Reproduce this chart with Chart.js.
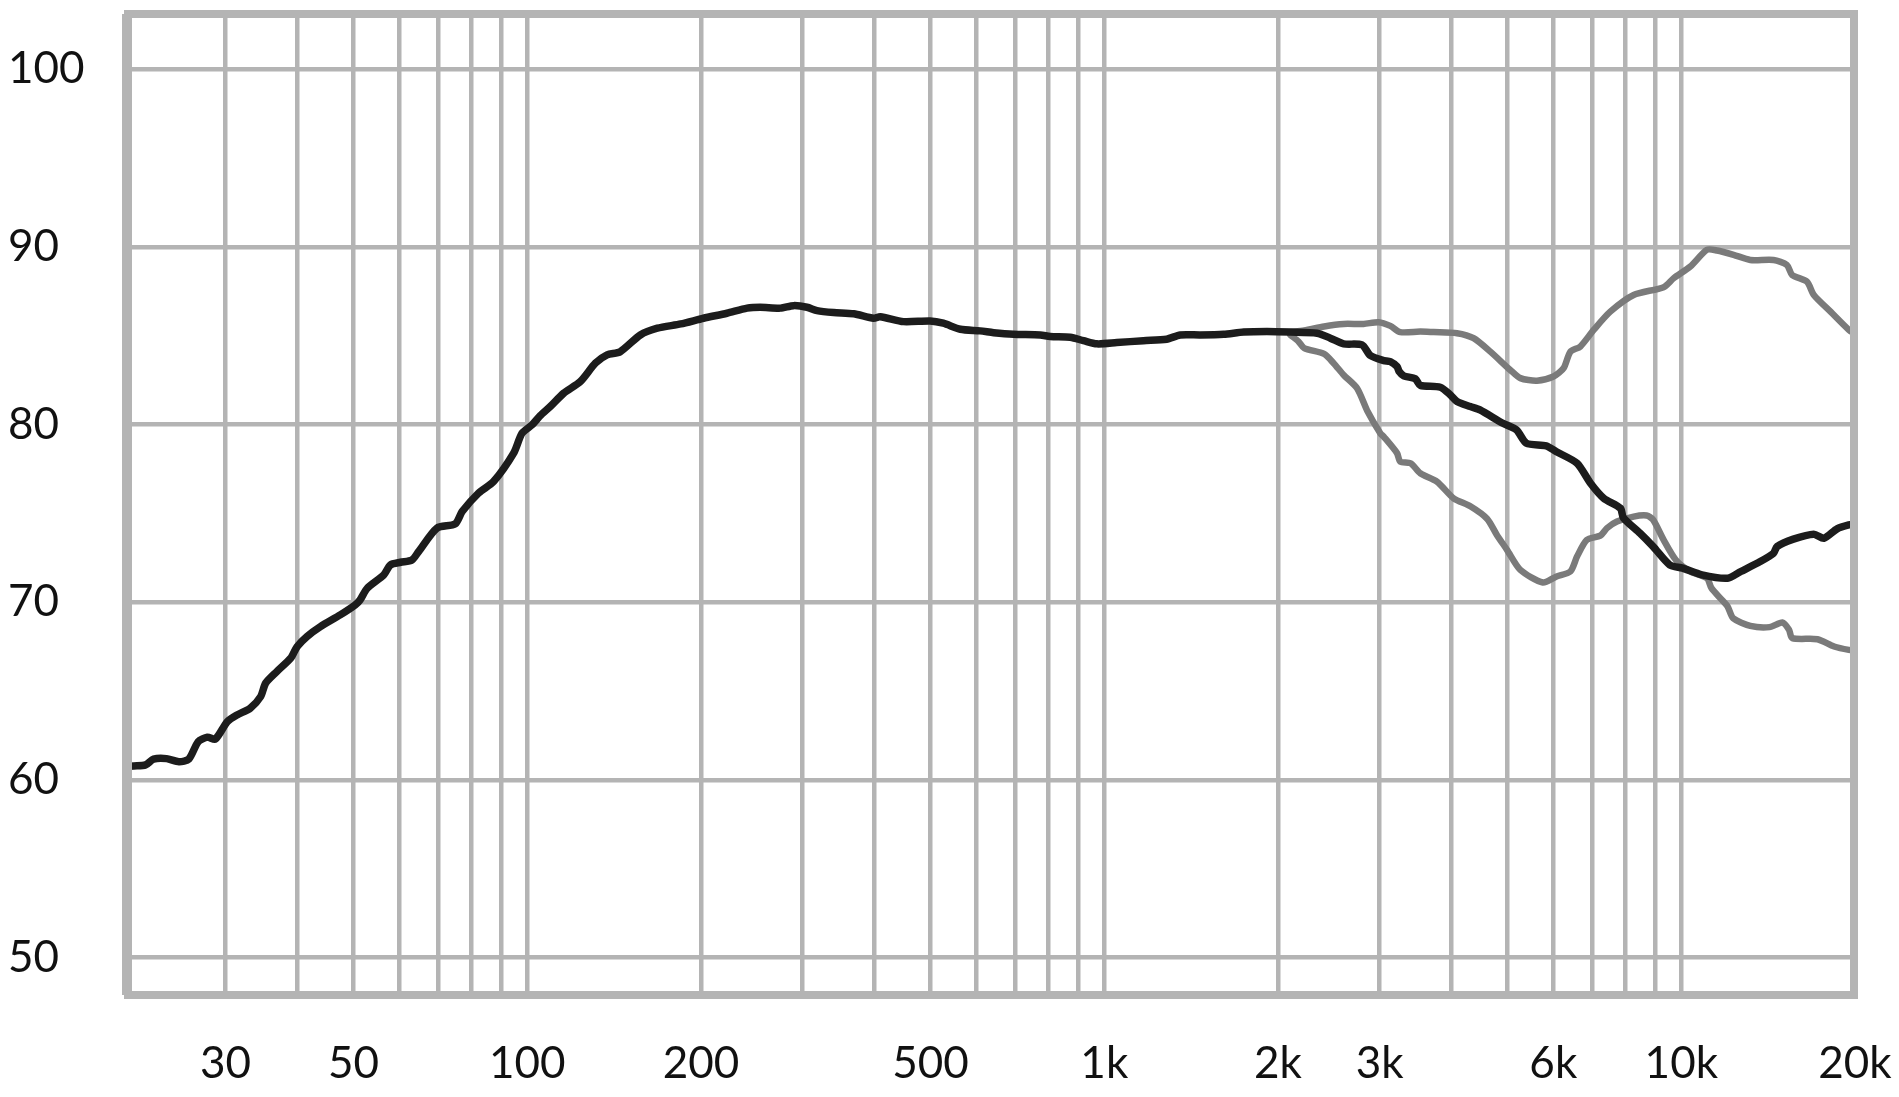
<!DOCTYPE html>
<html>
<head>
<meta charset="utf-8">
<title>Frequency response</title>
<script src="https://cdn.jsdelivr.net/npm/chart.js@4.4.1/dist/chart.umd.min.js"></script>
<style>
  html,body{margin:0;padding:0;background:#fff;}
  #wrap{width:1899px;height:1097px;position:relative;}
</style>
</head>
<body>
<div id="wrap"><canvas id="chFr"></canvas></div>
<script>
// ====== data (Hz / dB) ======
const mainHz = [20, 20.8, 21.8, 22.5, 23.7, 24.9, 25.9, 26.9, 27.9, 28.8, 30.2, 31.4, 33.1, 34.5, 35.2, 36.8, 38.9, 39.9, 41.5, 43.8,
  47.4, 50.3, 51.3, 52.8, 56.4, 57.9, 60.3, 63.1, 64.8, 69.7, 75.0, 77.1, 82.3, 87.4, 94.7, 97.9, 101.9, 105.3, 109.6, 115.6,
  123.6, 131.2, 137.5, 144.9, 157, 168, 184.5, 202, 221.8, 240.4, 253.3, 274.5, 289.4, 305.3, 317.8, 339.5, 367.8, 398.3, 409, 448.7,
  499, 526, 563, 609.5, 643, 696, 774.5, 806, 873, 920, 971, 1051, 1169, 1282, 1354, 1467, 1610, 1744, 1914, 2101,
  2338, 2465, 2599, 2797, 2891, 3049, 3131, 3216, 3244, 3303, 3460, 3529, 3822, 3978, 4085, 4309, 4478, 4906, 5180, 5390,
  5832, 6066, 6596, 6960, 7340, 7842, 7937, 8483, 8939, 9550, 10050, 10860, 12030, 12680, 13700, 14450, 14650, 15640, 16970, 17660,
  18620, 19510, 20000];
const mainDb = [60.75, 60.79, 60.85, 61.17, 61.2, 61.03, 61.17, 62.16, 62.41, 62.3, 63.28, 63.66, 64.04, 64.69, 65.45, 66.1, 66.85, 67.5, 68.07, 68.63,
  69.29, 69.85, 70.13, 70.79, 71.54, 72.1, 72.25, 72.38, 72.85, 74.17, 74.41, 75.1, 76.14, 76.79, 78.39, 79.51, 79.98, 80.5, 81.01, 81.76,
  82.42, 83.45, 83.92, 84.1, 85.04, 85.42, 85.66, 85.98, 86.26, 86.55, 86.6, 86.55, 86.69, 86.6, 86.41, 86.3, 86.23, 85.98, 86.07, 85.79,
  85.83, 85.7, 85.36, 85.27, 85.17, 85.08, 85.04, 84.95, 84.91, 84.72, 84.54, 84.61, 84.72, 84.8, 85.04, 85.04, 85.08, 85.2, 85.23, 85.2,
  85.14, 84.86, 84.54, 84.48, 83.88, 83.6, 83.54, 83.26, 82.98, 82.74, 82.57, 82.2, 82.1, 81.67, 81.3, 81.01, 80.82, 80.07, 79.7, 78.95,
  78.8, 78.48, 77.82, 76.7, 75.85, 75.29, 74.75, 73.88, 73.13, 72.1, 71.92, 71.54, 71.35, 71.73, 72.29, 72.76, 73.13, 73.55, 73.83, 73.6,
  74.13, 74.35, 74.4];

const upperHz = [2101, 2220, 2404, 2599, 2814, 2988, 3131, 3258, 3529, 3722, 4085, 4365, 4667, 5053, 5260, 5623, 6005, 6252, 6423, 6683,
  7048, 7532, 8268, 9318, 9698, 10366, 11080, 11530, 12320, 13170, 14450, 15240, 15560, 16510, 16970, 18140, 19510, 20000];
const upperDb = [85.2, 85.29, 85.52, 85.66, 85.66, 85.76, 85.55, 85.2, 85.23, 85.2, 85.14, 84.86, 84.1, 83.07, 82.61, 82.47, 82.7, 83.17, 84.1, 84.39,
  85.32, 86.35, 87.29, 87.73, 88.23, 88.89, 89.83, 89.79, 89.55, 89.26, 89.26, 88.98, 88.42, 88.04, 87.29, 86.35, 85.33, 85.1];

const lowerHz = [2101, 2171, 2220, 2404, 2497, 2599, 2742, 2860, 3008, 3049, 3216, 3258, 3395, 3529, 3771, 4031, 4309, 4606, 4790, 4988,
  5260, 5756, 6066, 6423, 6596, 6859, 7239, 7433, 7737, 8268, 8710, 8939, 9318, 9779, 10366, 11080, 11280, 11760, 12030, 12300,
  13170, 14220, 14970, 15370, 15570, 17220, 18400, 19510, 20000];
const lowerDb = [85.04, 84.67, 84.3, 83.97, 83.45, 82.79, 82.04, 80.73, 79.51, 79.32, 78.39, 77.91, 77.82, 77.26, 76.79, 75.85, 75.4, 74.7, 73.79, 72.95,
  71.82, 71.11, 71.44, 71.73, 72.57, 73.51, 73.75, 74.17, 74.54, 74.82, 74.88, 74.63, 73.51, 72.39, 71.73, 71.35, 70.79, 70.13, 69.76, 69.1,
  68.67, 68.6, 68.86, 68.45, 67.98, 67.92, 67.51, 67.32, 67.3];

// ====== axes ======
const gridHz = [20, 30, 40, 50, 60, 70, 80, 90, 100, 200, 300, 400, 500, 600, 700, 800, 900,
  1000, 2000, 3000, 4000, 5000, 6000, 7000, 8000, 9000, 10000, 20000];
const labelHz   = [30, 50, 100, 200, 500, 1000, 2000, 3000, 6000, 10000, 20000];
const labelText = ['30', '50', '100', '200', '500', '1k', '2k', '3k', '6k', '10k', '20k'];
const gridDb = [50, 60, 70, 80, 90, 100];

(function(){
  const GRID = '#b4b4b4';
  const zip = (xs, ys) => xs.map((x, i) => ({ x, y: ys[i] }));
  const lblOf = v => { const i = labelHz.indexOf(v); return i >= 0 ? labelText[i] : ''; };
  const font = { family: 'Lato, "Liberation Sans", sans-serif', size: 44 };

  // frame drawn on top of the curves, like the original
  const framePlugin = {
    id: 'frame',
    afterDatasetsDraw(chart){
      const { ctx, chartArea: a } = chart;
      ctx.save();
      ctx.strokeStyle = GRID; ctx.lineWidth = 8;
      ctx.strokeRect(a.left + 4, a.top, a.right - a.left - 5, a.bottom - a.top);
      ctx.restore();
    }
  };

  const line = (data, color, w) => ({
    data, borderColor: color, borderWidth: w, pointRadius: 0, tension: 0.25,
    borderJoinStyle: 'round', borderCapStyle: 'round', fill: false
  });

  new Chart(document.getElementById('chFr'), {
    type: 'line',
    data: {
      datasets: [
        line(zip(mainHz, mainDb), '#1c1c1c', 7.5),
        line(zip(upperHz, upperDb), '#7a7a7a', 6.5),
        line(zip(lowerHz, lowerDb), '#7a7a7a', 6.5)
      ]
    },
    options: {
      responsive: true, maintainAspectRatio: false, devicePixelRatio: 1,
      animation: false,
      layout: { padding: { left: 8, top: 14, right: 44, bottom: 0 } },
      plugins: { legend: { display: false }, tooltip: { enabled: false } },
      scales: {
        x: {
          type: 'logarithmic', min: 20, max: 20000,
          afterBuildTicks: s => { s.ticks = gridHz.map(v => ({ value: v })); },
          afterFit: s => { s.height = 102; s.paddingLeft = 0; s.paddingRight = 0; },
          grid: { color: GRID, lineWidth: 4.5, drawTicks: false },
          border: { display: false },
          ticks: { autoSkip: false, maxRotation: 0, minRotation: 0, padding: 42, color: '#111', font,
                   callback: v => lblOf(v) }
        },
        y: {
          min: 47.9, max: 103.1,
          afterBuildTicks: s => { s.ticks = gridDb.map(v => ({ value: v })); },
          afterFit: s => { s.width = 116; s.paddingTop = 0; s.paddingBottom = 0; },
          grid: { color: GRID, lineWidth: 4.5, drawTicks: false },
          border: { display: false },
          ticks: { crossAlign: 'far', padding: 0, color: '#111', font, callback: v => String(v) }
        }
      }
    },
    plugins: [framePlugin]
  });
})();
</script>
</body>
</html>
